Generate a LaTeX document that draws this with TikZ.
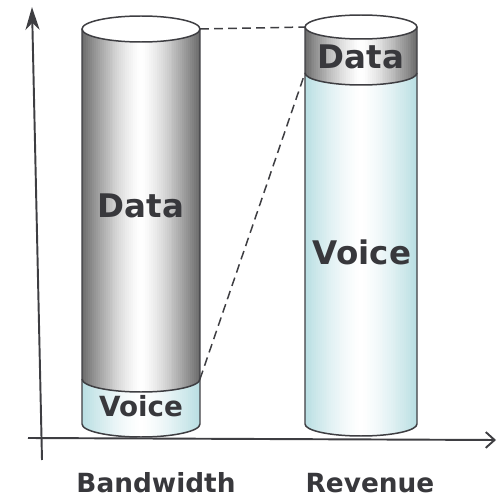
\documentclass[tikz,border=0pt]{standalone}
\usepackage{fontspec}
\setmainfont{DejaVu Sans}
\usetikzlibrary{arrows.meta}
\definecolor{datagray}{HTML}{6A6A6A}
\definecolor{voicecyan}{HTML}{B8DEE2}
\definecolor{rim}{HTML}{3E3E42}
\definecolor{ink}{HTML}{38383C}
\tikzstyle{rimline}=[draw=rim, line width=0.85pt]
\tikzstyle{axis}=[draw=rim, line width=1.1pt]
\tikzstyle{link}=[draw=rim, line width=0.85pt, dash pattern=on 5pt off 3pt]
\tikzstyle{biglabel}=[text=ink, inner sep=0pt, anchor=base, font=\fontsize{18.5}{20}\selectfont\bfseries]
\tikzstyle{smalllabel}=[biglabel, font=\fontsize{15.8}{18}\selectfont\bfseries]
\tikzstyle{axislabel}=[biglabel, font=\fontsize{15}{18}\selectfont\bfseries]
% vertical strips: left edge, width, edge colour (white in the middle)
\newcommand{\bandshade}[3]{
    \foreach \i in {0,...,59} {
        \pgfmathsetmacro{\w}{100*(1-abs(2*(\i+0.5)/60-1)^1.4)}
        \fill [white!\w!#3] ({#1+\i*#2/60},0) rectangle ({#1+(\i+1)*#2/60+0.6},498);
    }
}

\begin{document}
\begin{tikzpicture}[x=0.02cm, y=0.02cm]
    \useasboundingbox (0,0) rectangle (497,498);
    % axes
    \coordinate (yTail) at (42,38);
    \coordinate (yTip) at (32,491);
    \coordinate (xTail) at (28,60);
    \coordinate (xTip) at (496,58);
    \draw [axis, -{Stealth[length=13pt, width=8pt, inset=4pt]}] (yTail) -- (yTip);
    \draw [axis, -{Straight Barb[length=5pt, width=9pt]}] (xTail) -- (xTip);
    % bandwidth cylinder
    \begin{scope}
        \clip (82,119) -- (82,74) arc (180:360:59 and 13) -- (200,119) arc (0:-180:59 and 13) -- cycle;
        \bandshade{82}{118}{voicecyan}
    \end{scope}
    \begin{scope}
        \clip (82,469) -- (82,119) arc (180:360:59 and 13) -- (200,469) arc (0:180:59 and 13) -- cycle;
        \bandshade{82}{118}{datagray}
    \end{scope}
    \filldraw [rimline, fill=white] (141,469) ellipse (59 and 13);
    \draw [rimline] (82,469) -- (82,74) arc (180:360:59 and 13) -- (200,469);
    \draw [rimline] (82,119) arc (180:360:59 and 13);
    % revenue cylinder
    \begin{scope}
        \clip (305,425) -- (305,74) arc (180:360:56 and 12) -- (417,425) arc (0:-180:56 and 12) -- cycle;
        \bandshade{305}{112}{voicecyan}
    \end{scope}
    \begin{scope}
        \clip (305,471) -- (305,425) arc (180:360:56 and 12) -- (417,471) arc (0:180:56 and 12) -- cycle;
        \bandshade{305}{112}{datagray}
    \end{scope}
    \filldraw [rimline, fill=white] (361,471) ellipse (56 and 12);
    \draw [rimline] (305,471) -- (305,74) arc (180:360:56 and 12) -- (417,471);
    \draw [rimline] (305,425) arc (180:360:56 and 12);
    % dashed links
    \coordinate (bwTopR) at (200,469);
    \coordinate (bwMidR) at (200,119);
    \coordinate (rvTopL) at (305,471);
    \coordinate (rvMidL) at (305,425);
    \draw [link] (bwTopR) -- (rvTopL);
    \draw [link] (bwMidR) -- (rvMidL);
    % labels
    \node [biglabel] (bwData) at (141,280) {Data};
    \node [smalllabel] (bwVoice) at (141,81) {Voice};
    \node [biglabel] (rvData) at (361,429) {Data};
    \node [biglabel] (rvVoice) at (362,234) {Voice};
    \node [axislabel] (bwName) at (156,6) {Bandwidth};
    \node [axislabel] (rvName) at (370,6) {Revenue};
\end{tikzpicture}
\end{document}
